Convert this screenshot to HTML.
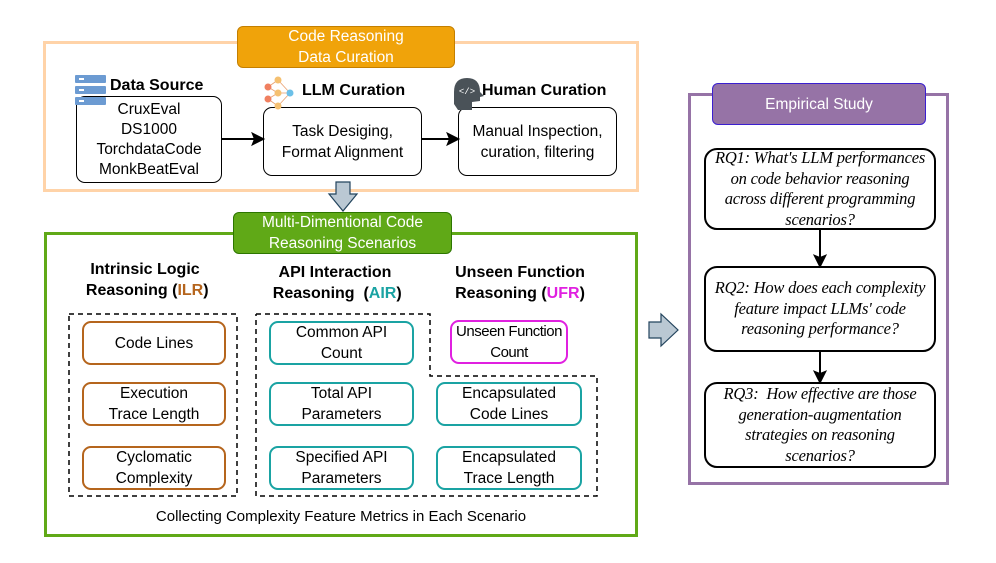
<!DOCTYPE html>
<html><head><meta charset="utf-8"><style>
body{margin:0;width:996px;height:563px;background:#fff;position:relative;overflow:hidden;font-family:"Liberation Sans",sans-serif;color:#000}
.a{position:absolute;box-sizing:border-box}
.b{position:absolute;box-sizing:border-box;display:flex;align-items:center;justify-content:center;text-align:center;font-size:15.5px;line-height:21px;border-radius:9px;background:#fff;white-space:nowrap}
.h{position:absolute;font-weight:bold;font-size:16px;line-height:21px;text-align:center;white-space:nowrap}
.rq{font-family:"Liberation Serif",serif;font-style:italic;font-size:16.5px;line-height:20.5px;border:2px solid #000;border-radius:13px;letter-spacing:-0.2px}
</style></head><body>
<div class="a" style="left:43px;top:41px;width:596px;height:151px;border:3px solid #ffd3a8"></div>
<div class="b" style="left:237px;top:26px;width:218px;height:42px;background:#f0a30a;border:1px solid #c47f00;color:#fff;border-radius:6px">Code Reasoning<br>Data Curation</div>

<div class="b" style="left:76px;top:96px;width:146px;height:87px;border:1.5px solid #000;line-height:20px">CruxEval<br>DS1000<br>TorchdataCode<br>MonkBeatEval</div>
<div class="b" style="left:263px;top:107px;width:159px;height:69px;border:1.5px solid #000">Task Desiging,<br>Format Alignment</div>
<div class="b" style="left:458px;top:107px;width:159px;height:69px;border:1.5px solid #000">Manual Inspection,<br>curation, filtering</div>
<div class="h" style="left:110px;top:75px">Data Source</div>
<div class="h" style="left:302px;top:80px">LLM Curation</div>
<div class="h" style="left:482px;top:80px">Human Curation</div>

<div class="a" style="left:44px;top:232px;width:594px;height:305px;border:3px solid #60a917"></div>
<div class="b" style="left:233px;top:212px;width:219px;height:42px;background:#60a917;border:1px solid #2d7600;color:#fff;border-radius:6px">Multi-Dimentional Code<br>Reasoning Scenarios</div>

<div class="h" style="left:60px;top:259px;width:170px">Intrinsic Logic<br>&nbsp;Reasoning (<span style="color:#b5651d">ILR</span>)</div>
<div class="h" style="left:255px;top:262px;width:160px">API Interaction<br>&nbsp;Reasoning &nbsp;(<span style="color:#1aa3a3">AIR</span>)</div>
<div class="h" style="left:440px;top:262px;width:160px">Unseen Function<br>Reasoning (<span style="color:#e020e0">UFR</span>)</div>

<div class="b" style="left:82px;top:321px;width:144px;height:44px;border:2px solid #b5651d">Code Lines</div>
<div class="b" style="left:82px;top:382px;width:144px;height:44px;border:2px solid #b5651d">Execution<br>Trace Length</div>
<div class="b" style="left:82px;top:446px;width:144px;height:44px;border:2px solid #b5651d">Cyclomatic<br>Complexity</div>
<div class="b" style="left:269px;top:321px;width:145px;height:44px;border:2px solid #1aa3a3">Common API<br>Count</div>
<div class="b" style="left:269px;top:382px;width:145px;height:44px;border:2px solid #1aa3a3">Total API<br>Parameters</div>
<div class="b" style="left:269px;top:446px;width:145px;height:44px;border:2px solid #1aa3a3">Specified API<br>Parameters</div>
<div class="b" style="left:450px;top:320px;width:118px;height:44px;border:2px solid #e020e0;letter-spacing:-0.5px;font-size:15px">Unseen Function<br>Count</div>
<div class="b" style="left:436px;top:382px;width:146px;height:44px;border:2px solid #1aa3a3">Encapsulated<br>Code Lines</div>
<div class="b" style="left:436px;top:446px;width:146px;height:44px;border:2px solid #1aa3a3">Encapsulated<br>Trace Length</div>
<div class="a" style="left:44px;top:508px;width:594px;text-align:center;font-size:15px">Collecting Complexity Feature Metrics in Each Scenario</div>

<div class="a" style="left:688px;top:93px;width:261px;height:392px;border:3px solid #9673a6"></div>
<div class="b" style="left:712px;top:83px;width:214px;height:42px;background:#9673a6;border:1.5px solid #3a1fd0;color:#fff;border-radius:6px">Empirical Study</div>
<div class="b rq" style="left:704px;top:148px;width:232px;height:82px">RQ1: What's LLM performances<br>on code behavior reasoning<br>across different programming<br>scenarios?</div>
<div class="b rq" style="left:704px;top:266px;width:232px;height:86px">RQ2: How does each complexity<br>feature impact LLMs' code<br>reasoning performance?</div>
<div class="b rq" style="left:704px;top:382px;width:232px;height:86px">RQ3: &nbsp;How effective are those<br>generation-augmentation<br>strategies on reasoning<br>scenarios?</div>

<svg class="a" style="left:0;top:0" width="996" height="563">
<g fill="none" stroke="#000" stroke-width="1.5" stroke-dasharray="5,4">
<rect x="69" y="314" width="168" height="182"/>
<polyline points="256,314 430,314 430,376 597,376 597,496 256,496 256,314"/>
</g>
<g stroke="#000" stroke-width="2" fill="#000">
<line x1="222" y1="139" x2="255" y2="139"/><polygon points="263,139 253,134 255,139 253,144"/>
<line x1="422" y1="139" x2="450" y2="139"/><polygon points="458,139 448,134 450,139 448,144"/>
<line x1="820" y1="230" x2="820" y2="258"/><polygon points="820,266 815,256 820,258 825,256"/>
<line x1="820" y1="352" x2="820" y2="374"/><polygon points="820,382 815,372 820,374 825,372"/>
</g>
<polygon points="336,182 350,182 350,194 357,194 343,211 329,194 336,194" fill="#bac8d3" stroke="#23445d" stroke-width="1.2"/>
<polygon points="649,322 661,322 661,314 678,330 661,346 661,338 649,338" fill="#bac8d3" stroke="#23445d" stroke-width="1.2"/>
<g fill="#6c9bd2"><rect x="75" y="75" width="31" height="8" rx="1"/><rect x="75" y="86" width="31" height="8" rx="1"/><rect x="75" y="97" width="31" height="8" rx="1"/></g>
<g fill="#fff"><rect x="79" y="78" width="5" height="2"/><rect x="79" y="89" width="5" height="2"/><rect x="79" y="100" width="5" height="2"/></g>
<g stroke="#e8a070" stroke-width="0.8"><line x1="268" y1="87" x2="278" y2="80"/><line x1="268" y1="87" x2="278" y2="93"/><line x1="268" y1="99" x2="278" y2="93"/><line x1="268" y1="99" x2="278" y2="106"/><line x1="278" y1="93" x2="290" y2="93"/><line x1="278" y1="80" x2="290" y2="93"/><line x1="278" y1="106" x2="290" y2="93"/></g>
<g><circle cx="268" cy="87" r="3.5" fill="#f08060"/><circle cx="268" cy="99" r="3.5" fill="#f08060"/><circle cx="278" cy="80" r="3.5" fill="#f5c070"/><circle cx="278" cy="93" r="3.5" fill="#f5c070"/><circle cx="278" cy="106" r="3.5" fill="#f5c070"/><circle cx="290" cy="93" r="3.5" fill="#6cc0e8"/></g>
<path d="M454,104 L454,92 Q454,78 467,78 Q480,78 480,92 L484,96 L480,97 L480,101 L472,102 L472,110 L458,110 Z" fill="#4a5258"/>
<text x="467" y="94" font-size="9" fill="#fff" text-anchor="middle" font-family="Liberation Mono">&lt;/&gt;</text>
</svg>
</body></html>
